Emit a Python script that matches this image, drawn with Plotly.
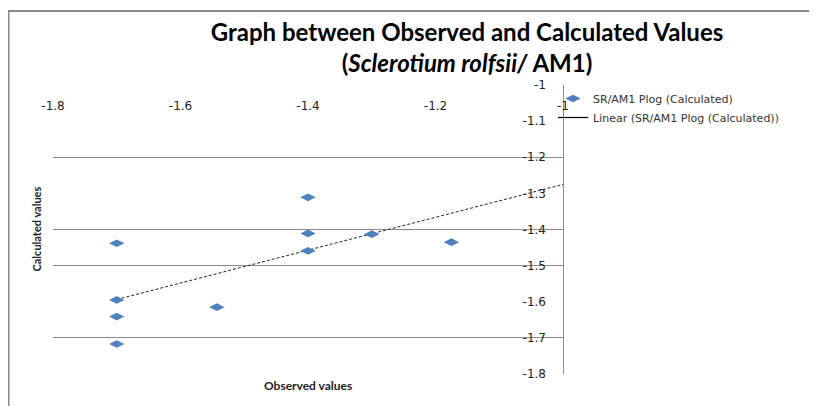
import numpy as np
import plotly.graph_objects as go

# ---- data ----
observed = [-1.70, -1.70, -1.70, -1.70, -1.543, -1.40, -1.40, -1.40, -1.30, -1.175]
calculated = [-1.438, -1.595, -1.641, -1.717, -1.615, -1.311, -1.411, -1.459, -1.413, -1.435]
x_ticks = [-1.8, -1.6, -1.4, -1.2, -1.0]
x_tick_text = ["-1.8", "-1.6", "-1.4", "-1.2", "-1"]
y_ticks = [-1.0, -1.1, -1.2, -1.3, -1.4, -1.5, -1.6, -1.7, -1.8]
y_tick_text = ["-1", "-1.1", "-1.2", "-1.3", "-1.4", "-1.5", "-1.6", "-1.7", "-1.8"]
grid_values = [-1.2, -1.4, -1.5, -1.7]
series_name = "SR/AM1 Plog (Calculated)"
trend_name = "Linear (SR/AM1 Plog (Calculated))"
trend_end = -1.0  # forward forecast of the trendline

# linear trendline (least squares)
slope, intercept = np.polyfit(observed, calculated, 1)
tx = np.array([min(observed), trend_end])
ty = slope * tx + intercept

# page body has an 8px margin; work in screen pixels and convert
OFF = 8
SW, SH = 817, 406
W, H = SW - OFF, SH - OFF
PL, PR, PT, PB = 53, 563, 85, 374          # plot area in screen pixels
L, R, T, B = PL - OFF, SW - PR, PT - OFF, SH - PB
pw, ph = PR - PL, PB - PT

def px_x(p):
    return (p - PL) / pw

def px_y(p):
    return (PB - p) / ph

fig = go.Figure()
fig.add_trace(go.Scatter(
    x=tx, y=ty, mode="lines", showlegend=False, hoverinfo="skip",
    line=dict(color="#222222", width=1, dash="3px,2px"),
))
fig.add_trace(go.Scatter(
    x=observed, y=calculated, mode="markers", name=series_name,
    marker=dict(symbol="diamond-wide", size=11, color="#4F81BD"),
))
fig.add_trace(go.Scatter(
    x=[None], y=[None], mode="lines", name=trend_name,
    line=dict(color="#000000", width=1.2),
))
# overlay axis for gridlines and the vertical axis line
fig.add_trace(go.Scatter(x=[None], y=[None], yaxis="y2", showlegend=False))

tick_font = dict(family="DejaVu Sans", size=12, color="#222222")

fig.update_layout(
    width=W, height=H, autosize=False,
    margin=dict(l=L, r=R, t=T, b=B, autoexpand=False),
    paper_bgcolor="white", plot_bgcolor="white",
    title=dict(
        text="<b>Graph between Observed and Calculated Values<br>(<i>Sclerotium rolfsii/</i> AM1)</b>",
        x=(467 - OFF) / W, xanchor="center", xref="container",
        y=1 - 33 / H, yanchor="top", yref="container",
        font=dict(family="Lato", size=24, color="#000000"),
    ),
    xaxis=dict(
        range=[-1.8, -1.0], side="top", anchor="free", position=px_y(112),
        tickvals=x_ticks, ticktext=x_tick_text, tickfont=tick_font,
        showgrid=False, zeroline=False, showline=False, ticks="",
    ),
    yaxis=dict(
        range=[-1.8, -1.0], side="left", anchor="free", position=px_x(546),
        tickvals=y_ticks, ticktext=y_tick_text, tickfont=tick_font,
        showgrid=False, zeroline=False, showline=False, ticks="",
    ),
    yaxis2=dict(
        range=[-1.8, -1.0], overlaying="y", side="right", anchor="x",
        tickvals=grid_values, showticklabels=False, ticks="",
        showgrid=True, gridcolor="#8a8a8a", gridwidth=1,
        showline=True, linecolor="#8a8a8a", linewidth=1, zeroline=False,
    ),
    legend=dict(
        x=px_x(553), y=px_y(84), xanchor="left", yanchor="top",
        font=dict(family="DejaVu Sans", size=11, color="#333333"),
        bgcolor="rgba(0,0,0,0)", itemwidth=30,
    ),
    annotations=[
        dict(text="<b>Calculated values</b>", textangle=-90,
             x=px_x(36), y=0.5, xref="paper", yref="paper",
             xanchor="center", yanchor="middle",
             showarrow=False, font=dict(family="Lato", size=11, color="#222222")),
        dict(text="<b>Observed values</b>",
             x=0.5, y=px_y(385), xref="paper", yref="paper",
             xanchor="center", yanchor="middle",
             showarrow=False, font=dict(family="Lato", size=12, color="#222222")),
    ],
    shapes=[
        dict(type="rect", xref="paper", yref="paper",
             x0=px_x(8.5), x1=px_x(840), y0=px_y(430), y1=px_y(11),
             line=dict(color="#888888", width=2), fillcolor="rgba(0,0,0,0)",
             layer="below"),
    ],
    showlegend=True,
)

fig.write_html("out.html")
